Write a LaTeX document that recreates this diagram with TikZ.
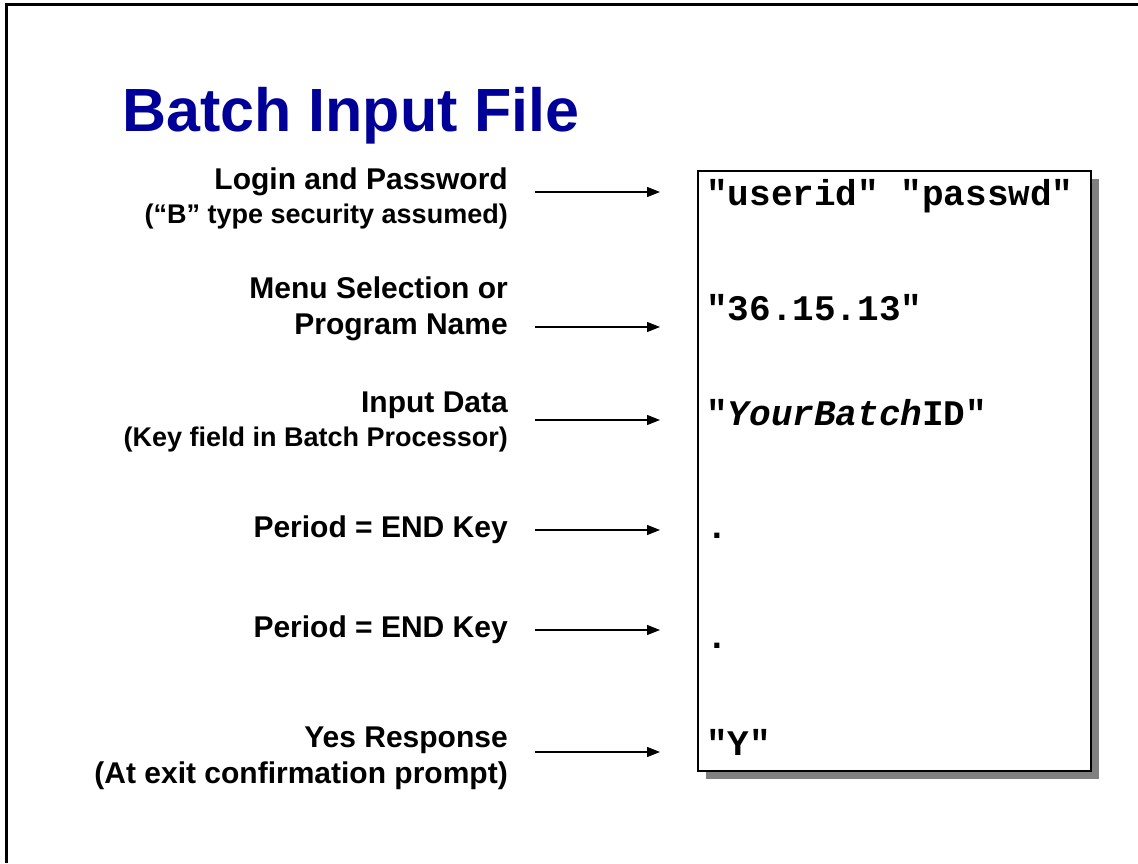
\documentclass[tikz,border=0pt]{standalone}
\usepackage{fontspec}
\setmainfont{Liberation Sans}
\setmonofont{Liberation Mono}
\usetikzlibrary{arrows.meta,shadows}
\definecolor{titleblue}{RGB}{0,0,153}
\colorlet{shadowgray}{black!50}

\begin{document}
\begin{tikzpicture}[x=1pt, y=-1pt,
    label/.style={inner sep=0pt, align=right, anchor=east, font=\fontsize{30}{36}\selectfont\bfseries},
    entry/.style={inner sep=0pt, anchor=base west, font=\fontsize{36}{40}\selectfont\ttfamily\bfseries},
    feed/.style={-{Triangle[length=13pt,width=10pt]}, line width=1.2pt, shorten <=27pt},
    filebox/.style={draw, line width=1.5pt, fill=white, minimum width=393pt, minimum height=600pt,
      anchor=north west, drop shadow={shadow xshift=8pt, shadow yshift=-8pt, fill=shadowgray, opacity=1}}]
    \useasboundingbox (0,0) rectangle (1138,863);

    % slide frame, only top and left edge visible
    \draw[line width=3pt] (6,863) -- (6,4) -- (1138,4);

    \node[inner sep=0pt, anchor=base west, text=titleblue, font=\fontsize{61}{70}\selectfont\bfseries]
      (title) at (122,131) {Batch Input File};

    % the input file itself
    \node[filebox] (file) at (697,170) {};
    \node[entry] (login) at (706,205) {"userid" "passwd"};
    \node[entry] (menu)  at (706,320) {"36.15.13"};
    \node[entry] (batch) at (706,425) {"\textit{YourBatch}ID"};
    \node[entry] (end1)  at (706,538) {.};
    \node[entry] (end2)  at (706,648) {.};
    \node[entry] (yes)   at (706,755) {"Y"};

    % explanations on the left
    \node[label] (loginlbl) at (508,198) {Login and Password\\[-2pt]
      {\fontsize{27}{32}\selectfont (“B” type security assumed)}};
    \node[label] (menulbl)  at (508,309) {Menu Selection or\\Program Name};
    \node[label] (batchlbl) at (508,422) {Input Data\\[-2pt]
      {\fontsize{27}{32}\selectfont (Key field in Batch Processor)}};
    \node[label] (end1lbl)  at (508,530) {Period = END Key};
    \node[label] (end2lbl)  at (508,630) {Period = END Key};
    \node[label] (yeslbl)   at (508,758) {Yes Response\\(At exit confirmation prompt)};

    \coordinate (t1) at (660,192);
    \coordinate (t2) at (660,327);
    \coordinate (t3) at (660,420);
    \coordinate (t4) at (660,530);
    \coordinate (t5) at (660,630);
    \coordinate (t6) at (660,752);
    \draw[feed] (loginlbl.east |- t1) -- (t1);
    \draw[feed] (menulbl.east |- t2) -- (t2);
    \draw[feed] (batchlbl.east |- t3) -- (t3);
    \draw[feed] (end1lbl.east |- t4) -- (t4);
    \draw[feed] (end2lbl.east |- t5) -- (t5);
    \draw[feed] (yeslbl.east |- t6) -- (t6);
  \end{tikzpicture}
\end{document}
